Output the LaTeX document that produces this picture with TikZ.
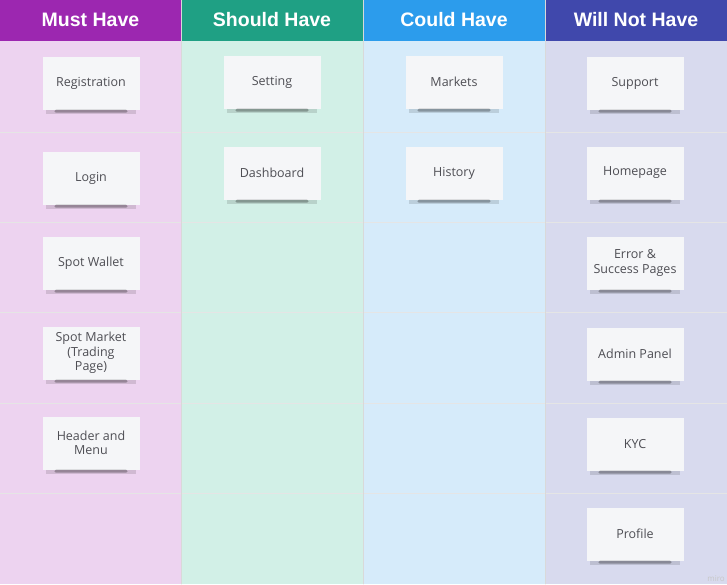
\documentclass[tikz,border=0pt]{standalone}
\usepackage{fontspec}
\setmainfont{Open Sans}
\newfontfamily\headfont{Liberation Sans}
\usetikzlibrary{positioning}
\definecolor{mustHead}{RGB}{156, 39, 176}
\definecolor{shouldHead}{RGB}{31, 160, 132}
\definecolor{couldHead}{RGB}{44, 156, 236}
\definecolor{wontHead}{RGB}{64, 72, 172}
\definecolor{mustBody}{RGB}{237, 211, 240}
\definecolor{shouldBody}{RGB}{210, 240, 231}
\definecolor{couldBody}{RGB}{214, 235, 250}
\definecolor{wontBody}{RGB}{216, 218, 238}
\definecolor{cardFill}{RGB}{245, 246, 248}
\definecolor{cardText}{RGB}{78, 78, 84}

\tikzset{
    headtext/.style={text=white, font=\headfont\fontsize{19.5}{22}\selectfont\bfseries},
    card/.style={fill=cardFill, minimum width=97pt, minimum height=53pt, inner sep=2pt,
        align=center, text=cardText, font=\fontsize{12.5}{14.5}\selectfont},
    cardshadow/.style={fill=black, opacity=0.28},
}

\begin{document}
\begin{tikzpicture}[x=1pt, y=-1pt, line cap=round, line join=round]
        \useasboundingbox (0,0) rectangle (727,584);
        % column bodies
        \fill[mustBody] (0,41) rectangle (181,584);
        \fill[shouldBody] (181,41) rectangle (363,584);
        \fill[couldBody] (363,41) rectangle (545,584);
        \fill[wontBody] (545,41) rectangle (727,584);
        % headers
        \fill[mustHead] (0,0) rectangle (181,41);
        \fill[shouldHead] (181,0) rectangle (363,41);
        \fill[couldHead] (363,0) rectangle (545,41);
        \fill[wontHead] (545,0) rectangle (727,41);
        \node[headtext] (must) at (90.5,20) {Must Have};
        \node[headtext] (should) at (272,20) {Should Have};
        \node[headtext] (could) at (454,20) {Could Have};
        \node[headtext] (wont) at (636,20) {Will Not Have};
        % row and column separators
        \foreach \y in {132,222,312,403,493}
            \draw[white!80!gray, line width=0.6pt] (0,\y) -- (727,\y);
        \foreach \x in {181,363,545}
            \draw[white!70!gray, line width=0.5pt] (\x,0) -- (\x,584);
        % must have
        \node[card] (registration) at (91,83) {Registration};
        \node[card] (login) at (91,178) {Login};
        \node[card] (spotwallet) at (91,263) {Spot Wallet};
        \node[card] (spotmarket) at (91,353) {Spot Market\\(Trading\\Page)};
        \node[card] (header) at (91,443) {Header and\\Menu};
        % should have
        \node[card] (setting) at (272,82) {Setting};
        \node[card] (dashboard) at (272,173) {Dashboard};
        % could have
        \node[card] (markets) at (454,82) {Markets};
        \node[card] (history) at (454,173) {History};
        % will not have
        \node[card] (support) at (635,83) {Support};
        \node[card] (homepage) at (635,173) {Homepage};
        \node[card] (errorpages) at (635,263) {Error \&\\Success Pages};
        \node[card] (admin) at (635,354) {Admin Panel};
        \node[card] (kyc) at (635,444) {KYC};
        \node[card] (profile) at (635,534) {Profile};
        % shadows under the cards
        \foreach \c in {registration,login,spotwallet,spotmarket,header,setting,dashboard,
                        markets,history,support,homepage,errorpages,admin,kyc,profile} {
            \fill[cardshadow, opacity=0.12] ([xshift=4pt]\c.south west) rectangle ([xshift=-4pt,yshift=-4.5pt]\c.south east);
            \fill[cardshadow, rounded corners=1.5pt] ([xshift=12pt]\c.south west) rectangle ([xshift=-12pt,yshift=-3pt]\c.south east);
        }
        \node[text=black!22, font=\fontsize{8}{9}\selectfont, anchor=south east, inner sep=2pt] (miro) at (727,584) {miro};
    \end{tikzpicture}
\end{document}
